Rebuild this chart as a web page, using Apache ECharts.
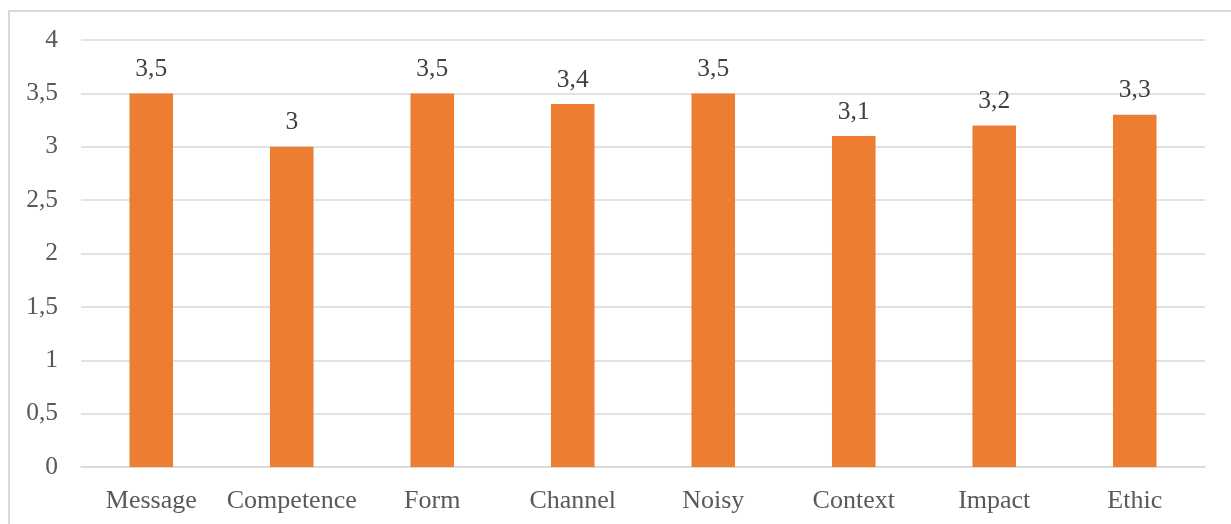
<!DOCTYPE html>
<html><head><meta charset="utf-8">
<script src="https://cdn.jsdelivr.net/npm/echarts@6/dist/echarts.min.js"></script>
<style>html,body{margin:0;padding:0;background:#fff;}#c{width:1231px;height:524px;}</style>
</head><body><div id="c"></div>
<script>
const categories = ["Message","Competence","Form","Channel","Noisy","Context","Impact","Ethic"];
const values = [3.5, 3.0, 3.5, 3.4, 3.5, 3.1, 3.2, 3.3];
const yTicks = [0, 0.5, 1, 1.5, 2, 2.5, 3, 3.5, 4];

const fmt = v => String(v).replace('.', ',');
const chart = echarts.init(document.getElementById('c'), null, {renderer:'canvas'});
chart.setOption({
  animation:false,
  backgroundColor:'#ffffff',
  textStyle:{fontFamily:'"Liberation Serif", "Times New Roman", serif'},
  graphic:[{type:'rect', shape:{x:9, y:11, width:1260, height:540}, style:{fill:'none', stroke:'#d9d9d9', lineWidth:2}, silent:true}],
  grid:{left:81, right:26, top:40, bottom:57},
  xAxis:{type:'category', data:categories,
    axisLine:{lineStyle:{color:'#d9d9d9', width:1.5}}, axisTick:{show:false},
    axisLabel:{color:'#595959', fontSize:26, margin:21, interval:0, hideOverlap:false, fontFamily:'"Liberation Serif", serif'}},
  yAxis:{type:'value', min:yTicks[0], max:yTicks[yTicks.length-1], interval:0.5,
    axisLine:{show:false}, axisTick:{show:false},
    splitLine:{lineStyle:{color:'#d9d9d9', width:1.5}},
    axisLabel:{color:'#595959', fontSize:25.5, margin:23, formatter:fmt, fontFamily:'"Liberation Serif", serif'}},
  series:[{type:'bar', data:values, barWidth:'31%',
    itemStyle:{color:'#ED7D31'},
    label:{show:true, position:'top', distance:11, color:'#404040', fontSize:25.5,
      fontFamily:'"Liberation Serif", serif', formatter:p=>fmt(p.value)}}]
});
</script></body></html>
